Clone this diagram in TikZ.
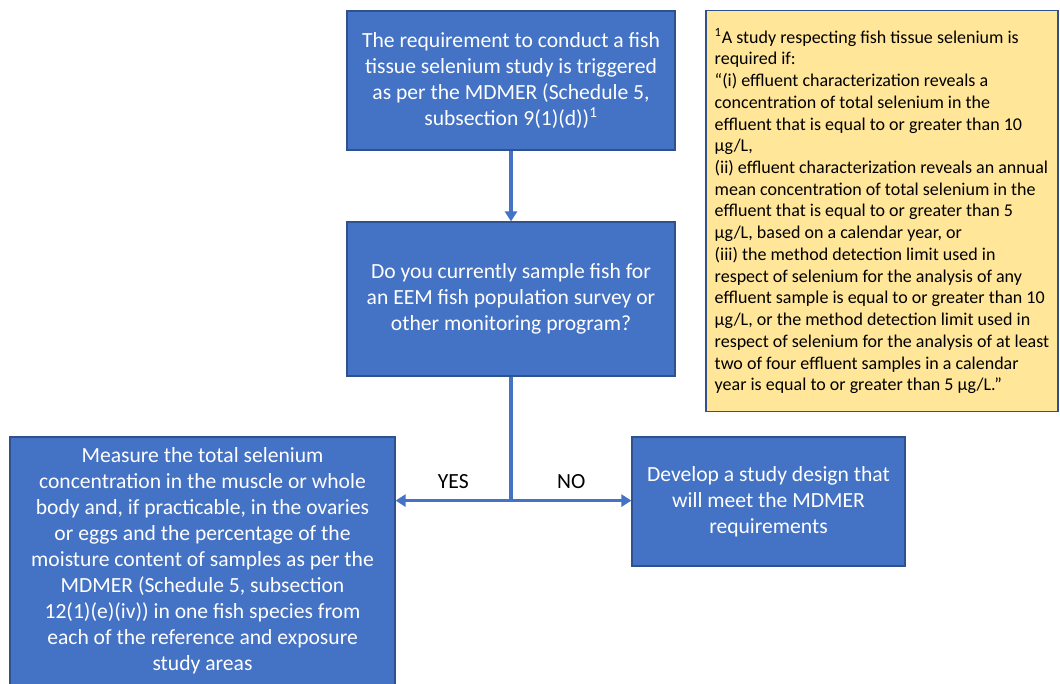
\documentclass[tikz,border=0pt]{standalone}
\usepackage{fontspec}
\setmainfont{Carlito}
\usepackage{xcolor}
\usetikzlibrary{arrows.meta,calc,positioning}
\definecolor{boxblue}{HTML}{4472C4}
\definecolor{edgeblue}{HTML}{2F528F}
\definecolor{notefill}{HTML}{FFE699}
\newcommand{\px}{0.75pt}
\tikzset{%
	stepbox/.style = {draw=edgeblue, fill=boxblue, line width=0.9pt, text=white, align=center, font=\fontsize{16.2}{19.5}\selectfont, inner sep=0pt},
	notebox/.style = {draw=edgeblue, fill=notefill, line width=0.9pt, align=left, font=\fontsize{13.5}{16.3}\selectfont, inner sep=0pt},
	link/.style    = {draw=boxblue, line width=2.3pt},
	flow/.style    = {link, -{Triangle[length=7.5pt,width=9pt]}},
	choice/.style  = {font=\fontsize{16.2}{19.5}\selectfont, inner sep=0pt},
}

\begin{document}
\begin{tikzpicture}[x=\px,y=-\px]
		\useasboundingbox (0,0) rectangle (1060,684);
		
		% flow chart boxes
		\node[stepbox, minimum width=328*\px, minimum height=139*\px] (trigger) at (511,80.5) {The requirement to conduct a fish\\ tissue selenium study is triggered\\ as per the MDMER (Schedule 5,\\ subsection 9(1)(d))\textsuperscript{1}};
		\node[stepbox, minimum width=328*\px, minimum height=154*\px] (ask) at (511,299) {Do you currently sample fish for\\ an EEM fish population survey or\\ other monitoring program?};
		\node[stepbox, minimum width=385*\px, minimum height=248*\px] (yes) at (202.5,561) {Measure the total selenium\\ concentration in the muscle or whole\\ body and, if practicable, in the ovaries\\ or eggs and the percentage of the\\ moisture content of samples as per the\\ MDMER (Schedule 5, subsection\\ 12(1)(e)(iv)) in one fish species from\\ each of the reference and exposure\\ study areas};
		\node[stepbox, minimum width=273*\px, minimum height=129*\px] (no) at (768.5,501.5) {Develop a study design that\\ will meet the MDMER\\ requirements};
		
		% footnote box
		\node[notebox, minimum width=352*\px, minimum height=401*\px] (note) at (882,211) {\textsuperscript{1}A study respecting fish tissue selenium is\\ required if:\\ ``(i) effluent characterization reveals a\\ concentration of total selenium in the\\ effluent that is equal to or greater than 10\\ µg/L,\\ (ii) effluent characterization reveals an annual\\ mean concentration of total selenium in the\\ effluent that is equal to or greater than 5\\ µg/L, based on a calendar year, or\\ (iii) the method detection limit used in\\ respect of selenium for the analysis of any\\ effluent sample is equal to or greater than 10\\ µg/L, or the method detection limit used in\\ respect of selenium for the analysis of at least\\ two of four effluent samples in a calendar\\ year is equal to or greater than 5 µg/L.''};
		
		% connectors
		\coordinate (split) at ($(ask.south)+(0,124)$);
		\draw[flow] (trigger) -- (ask);
		\draw[link] (ask) -- (split);
		\draw[flow] (split) -- (split -| yes.east) node[choice, midway, above=8pt] {YES};
		\draw[flow] (split) -- (split -| no.west) node[choice, midway, above=8pt] {NO};
		
\end{tikzpicture}
\end{document}
